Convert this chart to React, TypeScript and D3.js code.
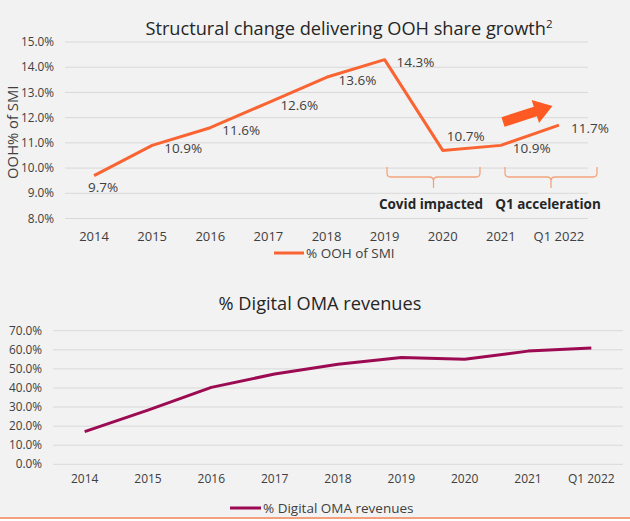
import React from 'react';
import * as d3 from 'd3';

const categories = ['2014', '2015', '2016', '2017', '2018', '2019', '2020', '2021', 'Q1 2022'];
const oohShare = [9.7, 10.9, 11.6, 12.6, 13.6, 14.3, 10.7, 10.9, 11.7];
const oohLabelPlacement = ['below', 'right', 'right', 'right', 'right', 'right', 'above', 'right', 'right'];
const oohTicks = [8, 9, 10, 11, 12, 13, 14, 15];
const digitalShare = [17.1, 28.4, 40.3, 47.3, 52.4, 56.0, 55.1, 59.3, 60.9];
const digitalTicks = [0, 10, 20, 30, 40, 50, 60, 70];

const FONT = "'Open Sans', 'Noto Sans', sans-serif";
const TEXT = '#404040';
const GRID = '#d9d9d9';
const ORANGE = '#FA6432';
const MAROON = '#9C0A52';
const BRACKET = '#F3A47E';

const W = 630;
const H = 521;

function Bracket({ x0, x1, y }: { x0: number; x1: number; y: number }) {
  const xm = (x0 + x1) / 2;
  const r = 4;
  const d = `M${x0},${y} L${x0},${y + 6} Q${x0},${y + 10} ${x0 + r},${y + 10} L${xm - r},${y + 10} Q${xm},${y + 10} ${xm},${y + 14} L${xm},${y + 21} M${xm},${y + 14} Q${xm},${y + 10} ${xm + r},${y + 10} L${x1 - r},${y + 10} Q${x1},${y + 10} ${x1},${y + 6} L${x1},${y}`;
  return <path d={d} fill="none" stroke={BRACKET} strokeWidth={1.3} />;
}

export default function App() {
  // Top chart
  const xTop = d3.scaleBand<string>().domain(categories).range([65, 588]);
  const yTop = d3.scaleLinear().domain([8, 15]).range([218.5, 42]);
  const cxTop = (c: string) => (xTop(c) as number) + xTop.bandwidth() / 2;
  const topLine = d3
    .line<number>()
    .x((_, i) => cxTop(categories[i]))
    .y((v) => yTop(v));

  // Bottom chart
  const xBot = d3.scaleBand<string>().domain(categories).range([53, 623]);
  const yBot = d3.scaleLinear().domain([0, 70]).range([464.3, 330.7]);
  const cxBot = (c: string) => (xBot(c) as number) + xBot.bandwidth() / 2;
  const botLine = d3
    .line<number>()
    .x((_, i) => cxBot(categories[i]))
    .y((v) => yBot(v));

  const fmt = d3.format('.1f');

  const arrowPts: [number, number][] = [
    [0, -5],
    [34, -5],
    [34, -12],
    [52, 0],
    [34, 12],
    [34, 5],
    [0, 5],
  ];

  return (
    <svg
      width={W}
      height={H}
      style={{ position: 'absolute', left: 0, top: 0, background: '#f2f2f2' }}
      fontFamily={FONT}
    >
      <rect x={0} y={0} width={W} height={H} fill="#f2f2f2" />

      {/* ---------- TOP CHART ---------- */}
      <text x={349} y={35} textAnchor="middle" fontSize={18.2} fill="#262626">
        Structural change delivering OOH share growth
        <tspan fontSize={11.5} dy={-7}>2</tspan>
      </text>

      {oohTicks.map((t) => (
        <g key={'tg' + t}>
          <line x1={65} x2={588} y1={yTop(t)} y2={yTop(t)} stroke={GRID} strokeWidth={1} />
          <text x={54} y={yTop(t)} dy="0.35em" textAnchor="end" fontSize={11.8} fill={TEXT}>
            {fmt(t)}%
          </text>
        </g>
      ))}

      <text
        transform={`translate(13,${(yTop(15) + yTop(8)) / 2 + 2}) rotate(-90)`}
        textAnchor="middle"
        dy="0.35em"
        fontSize={14.8}
        fill={TEXT}
      >
        OOH% of SMI
      </text>

      {categories.map((c) => (
        <text key={'tx' + c} x={cxTop(c)} y={236} dy="0.35em" textAnchor="middle" fontSize={13} fill={TEXT}>
          {c}
        </text>
      ))}

      <path d={topLine(oohShare) || ''} fill="none" stroke={ORANGE} strokeWidth={3} strokeLinejoin="round" />

      {oohShare.map((v, i) => {
        const px = cxTop(categories[i]);
        const py = yTop(v);
        const p = oohLabelPlacement[i];
        let x = px + 12;
        let y = py + 3;
        if (p === 'below') {
          x = px - 6;
          y = py + 12;
        } else if (p === 'above') {
          x = px + 4;
          y = py - 14;
        }
        return (
          <text key={'tl' + i} x={x} y={y} dy="0.35em" fontSize={13.5} fill={TEXT}>
            {fmt(v)}%
          </text>
        );
      })}

      <polygon
        points={arrowPts.map((p) => p.join(',')).join(' ')}
        transform="translate(503,122) rotate(-18)"
        fill="#FF5A23"
      />

      <Bracket x0={387} x1={480} y={167} />
      <Bracket x0={505} x1={597} y={167} />
      <text x={431} y={204} dy="0.35em" textAnchor="middle" fontSize={13.5} fontWeight="bold" fill="#262626">
        Covid impacted
      </text>
      <text x={548} y={204} dy="0.35em" textAnchor="middle" fontSize={13.5} fontWeight="bold" fill="#262626">
        Q1 acceleration
      </text>

      <line x1={274} x2={304} y1={253} y2={253} stroke={ORANGE} strokeWidth={3} />
      <text x={306} y={253} dy="0.35em" fontSize={13.5} fill={TEXT}>
        % OOH of SMI
      </text>

      {/* ---------- BOTTOM CHART ---------- */}
      <text x={320} y={304} dy="0.35em" textAnchor="middle" fontSize={18.2} fill="#262626">
        % Digital OMA revenues
      </text>

      {digitalTicks.map((t) => (
        <g key={'bg' + t}>
          <line x1={53} x2={623} y1={yBot(t)} y2={yBot(t)} stroke={GRID} strokeWidth={1} />
          <text x={42} y={yBot(t)} dy="0.35em" textAnchor="end" fontSize={11.8} fill={TEXT}>
            {fmt(t)}%
          </text>
        </g>
      ))}

      {categories.map((c) => (
        <text key={'bx' + c} x={cxBot(c)} y={479} dy="0.35em" textAnchor="middle" fontSize={12} fill={TEXT}>
          {c}
        </text>
      ))}

      <path d={botLine(digitalShare) || ''} fill="none" stroke={MAROON} strokeWidth={3} strokeLinejoin="round" />

      <line x1={230} x2={261} y1={508} y2={508} stroke={MAROON} strokeWidth={3} />
      <text x={263} y={508} dy="0.35em" fontSize={13.5} fill={TEXT}>
        % Digital OMA revenues
      </text>

      <line x1={0} x2={W} y1={518} y2={518} stroke="#F2A07E" strokeWidth={2} />
      <rect x={0} y={519} width={W} height={2} fill="#ffffff" />
    </svg>
  );
}
